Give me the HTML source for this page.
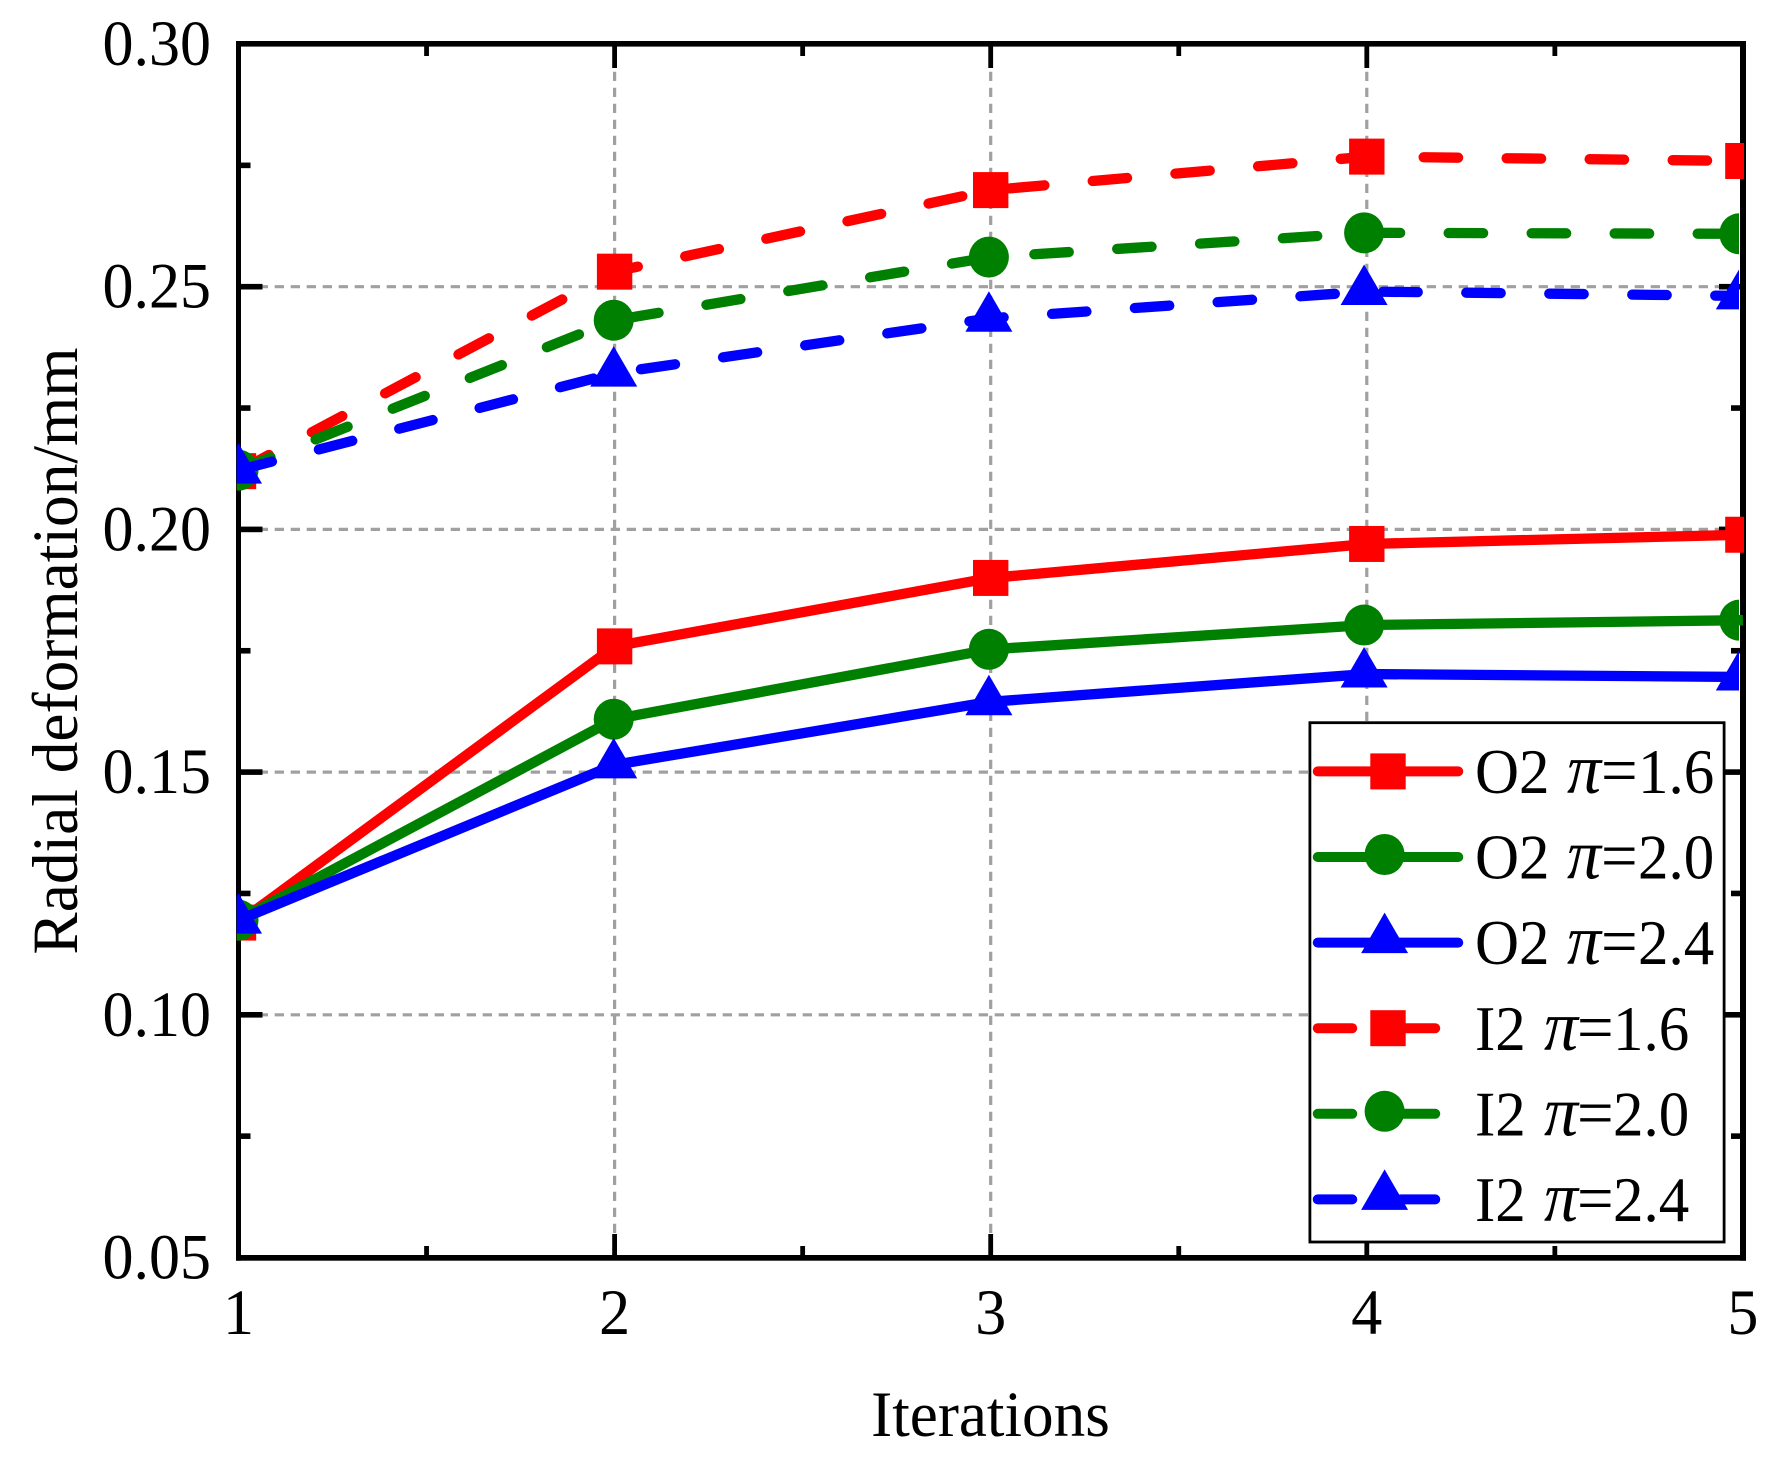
<!DOCTYPE html>
<html>
<head>
<meta charset="utf-8">
<title>Radial deformation chart</title>
<style>
html,body{margin:0;padding:0;background:#fff;width:1773px;height:1467px;overflow:hidden}
svg{display:block}
text{font-family:"Liberation Serif","Times New Roman",serif;fill:#000}
</style>
</head>
<body>
<svg id="chart" xmlns="http://www.w3.org/2000/svg" width="1773" height="1467" viewBox="0 0 1773 1467">
  <defs>
    <clipPath id="clip-wide"><rect x="236.7" y="30" width="1507.3" height="1240"/></clipPath>
    <clipPath id="clip-narrow"><rect x="236.7" y="30" width="1502.3" height="1240"/></clipPath>
  </defs>
  <g id="grid"></g>
  <g id="axes"></g>
  <g id="series"></g>
  <g id="legend"></g>
  <g id="labels"></g>
  <text transform="translate(990.5,1436) scale(1,1.02)" font-size="63.2" text-anchor="middle">Iterations</text>
  <text transform="translate(77,651) rotate(-90) scale(0.975,1)" font-size="65" text-anchor="middle">Radial deformation/mm</text>
</svg>
<script>
const categories = [1, 2, 3, 4, 5];
const xMinorTicks = [1.5, 2.5, 3.5, 4.5];
const yMajorTicks = [0.05, 0.10, 0.15, 0.20, 0.25, 0.30];
const yMinorTicks = [0.075, 0.125, 0.175, 0.225, 0.275];
const yTickLabels = ["0.05", "0.10", "0.15", "0.20", "0.25", "0.30"];
const xTickLabels = ["1", "2", "3", "4", "5"];
const seriesNames = ["O2 π=1.6", "O2 π=2.0", "O2 π=2.4", "I2 π=1.6", "I2 π=2.0", "I2 π=2.4"];
const o2Pi16 = [0.1190, 0.1759, 0.1900, 0.1970, 0.1989];
const o2Pi20 = [0.1195, 0.1609, 0.1753, 0.1803, 0.1813];
const o2Pi24 = [0.1195, 0.1515, 0.1645, 0.1702, 0.1696];
const i2Pi16 = [0.2120, 0.2531, 0.2699, 0.2768, 0.2759];
const i2Pi20 = [0.2122, 0.2431, 0.2561, 0.2611, 0.2609];
const i2Pi24 = [0.2122, 0.2322, 0.2435, 0.2490, 0.2481];
const seriesValues = [o2Pi16, o2Pi20, o2Pi24, i2Pi16, i2Pi20, i2Pi24];
const seriesColors = ["#ff0000", "#008000", "#0000ff", "#ff0000", "#008000", "#0000ff"];
const seriesShapes = ["square", "circle", "triangle", "square", "circle", "triangle"];
const seriesDashed = [false, false, false, true, true, true];

const NS = "http://www.w3.org/2000/svg";
function X(v) { return 238.5 + (v - 1) * 376.1; }
function Y(v) { return 1257.5 - (v - 0.05) * 4854; }
function mk(tag, attrs, parent) {
  const el = document.createElementNS(NS, tag);
  for (const k in attrs) el.setAttribute(k, attrs[k]);
  parent.appendChild(el);
  return el;
}
function drawMarker(shape, cx, cy, color, parent) {
  if (shape === "square") {
    return mk("rect", { x: cx - 17.7, y: cy - 18, width: 35.4, height: 36, fill: color }, parent);
  }
  if (shape === "circle") {
    return mk("ellipse", { cx: cx, cy: cy, rx: 20, ry: 20.5, fill: color }, parent);
  }
  return mk("polygon", { points: (cx - 23.5) + "," + (cy + 13.5) + " " + (cx + 23.5) + "," + (cy + 13.5) + " " + cx + "," + (cy - 27), fill: color }, parent);
}

const grid = document.getElementById("grid");
const axes = document.getElementById("axes");
const series = document.getElementById("series");
const legend = document.getElementById("legend");
const labels = document.getElementById("labels");

/* grid */
categories.slice(1, 4).forEach(function (c) {
  const g = mk("line", { x1: X(c), x2: X(c), y1: 55.7, y2: 1256, stroke: "#a0a0a0", "stroke-width": 3.2, "stroke-dasharray": "9.3 6.7" }, grid);
  
  
});
yMajorTicks.slice(1, 5).forEach(function (v) {
  const g = mk("line", { x1: 242.7, x2: 1740, y1: Y(v), y2: Y(v), stroke: "#a0a0a0", "stroke-width": 3.2, "stroke-dasharray": "9.3 6.7" }, grid);
  
  
});

/* axes frame */
const leftAxis = mk("rect", { x: 236, y: 41, width: 5, height: 1219.7, fill: "#000" }, axes);


const rightAxis = mk("rect", { x: 1740, y: 41, width: 6, height: 1219.7, fill: "#000" }, axes);


const topAxis = mk("rect", { x: 236, y: 41, width: 1510, height: 5.6, fill: "#000" }, axes);


const bottomAxis = mk("rect", { x: 236, y: 1255, width: 1510, height: 5.7, fill: "#000" }, axes);



/* ticks */
function xTick(v, len) {
  const a = mk("rect", { x: X(v) - 2.4, y: 44, width: 4.8, height: len, fill: "#000" }, axes);
  
  
  const b = mk("rect", { x: X(v) - 2.4, y: 1258 - len, width: 4.8, height: len, fill: "#000" }, axes);
  
  
}
function yTick(v, len) {
  const a = mk("rect", { x: 238.5, y: Y(v) - 2.8, width: len, height: 5.6, fill: "#000" }, axes);
  
  
  const b = mk("rect", { x: 1743 - len, y: Y(v) - 2.8, width: len, height: 5.6, fill: "#000" }, axes);
  
  
}
categories.slice(1, 4).forEach(function (c) { xTick(c, 24); });
xMinorTicks.forEach(function (v) { xTick(v, 12); });
yMajorTicks.slice(1, 5).forEach(function (v) { yTick(v, 24); });
yMinorTicks.forEach(function (v) { yTick(v, 12); });

/* series */
seriesValues.forEach(function (vals, s) {
  const color = seriesColors[s];
  const grp = mk("g", {}, series);
  
  
  const pts = vals.map(function (v, i) { return X(categories[i]) + "," + Y(v); }).join(" ");
  const attrs = { points: pts, fill: "none", stroke: color, "stroke-width": 10.3, "stroke-linejoin": "round", "clip-path": color === "#0000ff" ? "url(#clip-narrow)" : "url(#clip-wide)" };
  if (seriesDashed[s]) {
    attrs["stroke-dasharray"] = "34.5 48.5";
    attrs["stroke-linecap"] = "round";
  }
  const line = mk("polyline", attrs, grp);
  
  
  const mg = mk("g", { "clip-path": seriesShapes[s] === "square" ? "url(#clip-wide)" : "url(#clip-narrow)" }, grp);
  vals.forEach(function (v, i) {
    const c = categories[i];
    const shift = seriesShapes[s] === "square" ? 0 : -(c - 1) * 0.9;
    const m = drawMarker(seriesShapes[s], X(c) + shift, Y(v), color, mg);
    
    
  });
});

/* tick labels */
yTickLabels.forEach(function (t, i) {
  const el = mk("text", { transform: "translate(211," + (Y(yMajorTicks[i]) + 21) + ") scale(1,1.04)", "font-size": 62, "text-anchor": "end" }, labels);
  el.textContent = t;
  
  
});
xTickLabels.forEach(function (t, i) {
  const el = mk("text", { transform: "translate(" + X(categories[i]) + ",1334) scale(1,1.04)", "font-size": 62, "text-anchor": "middle" }, labels);
  el.textContent = t;
  
  
});

/* legend */
const legendBox = mk("rect", { x: 1309.9, y: 722.7, width: 414.2, height: 519.3, fill: "#fff", stroke: "#000", "stroke-width": 2.8 }, legend);


seriesNames.forEach(function (name, s) {
  const rowY = 771.4 + s * 85.6;
  const color = seriesColors[s];
  const row = mk("g", {}, legend);
  
  
  const attrs = { x1: 1317.75, x2: seriesDashed[s] ? 1436 : 1458.25, y1: rowY, y2: rowY, stroke: color, "stroke-width": 10, "stroke-linecap": "round" };
  if (seriesDashed[s]) attrs["stroke-dasharray"] = "34.5 48.5";
  const ln = mk("line", attrs, row);
  
  
  const shape = seriesShapes[s];
  const mx = shape === "square" ? 1388 : 1384.6;
  const my = shape === "square" ? rowY : (shape === "circle" ? rowY - 2.5 : rowY - 3);
  const mark = drawMarker(shape, mx, my, color, row);
  
  
  const parts = name.split(" ");
  const isO = parts[0] === "O2";
  const txt = mk("text", { transform: "translate(0," + (rowY + 21.6) + ") scale(1,1.04)", "font-size": 61 }, row);
  
  
  const t1 = mk("tspan", { x: 1475 }, txt);
  t1.textContent = parts[0] + " ";
  const t2 = mk("tspan", { x: isO ? 1567 : 1544, "font-style": "italic", "font-size": 68 }, txt);
  t2.textContent = "π";
  const t3 = mk("tspan", { x: isO ? 1601 : 1577, "font-size": 65 }, txt);
  t3.textContent = "=";
  const t4 = mk("tspan", { x: isO ? 1638 : 1613 }, txt);
  t4.textContent = parts[1].split("=")[1];
});
</script>
</body>
</html>
